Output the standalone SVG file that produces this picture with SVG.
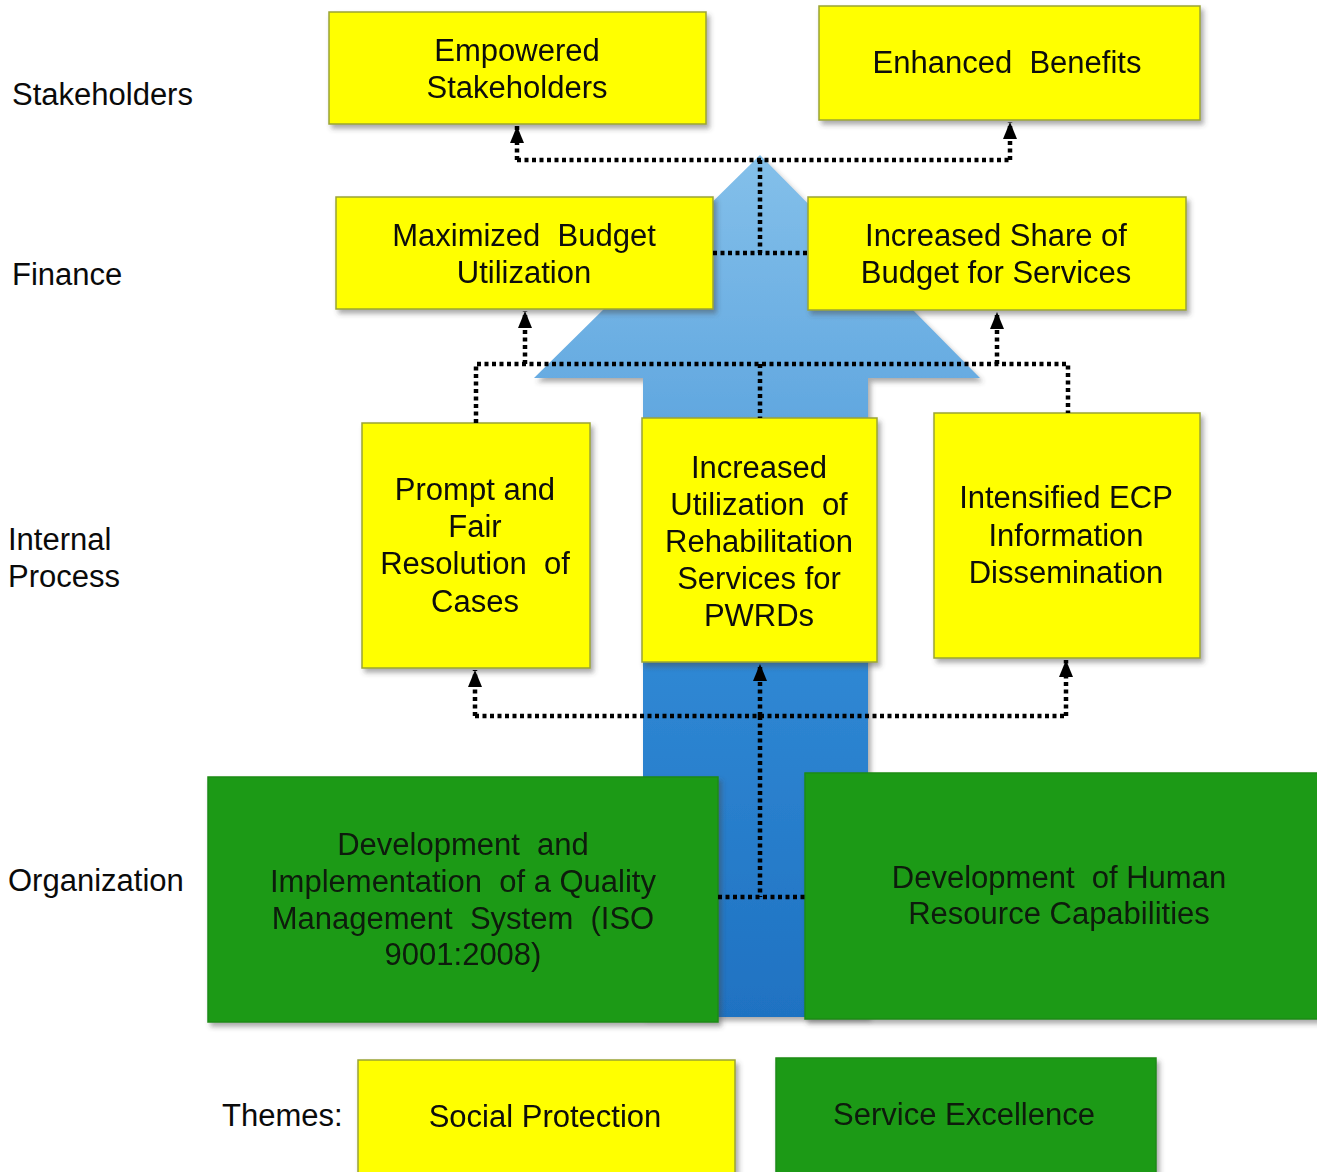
<svg xmlns="http://www.w3.org/2000/svg" width="1317" height="1172" viewBox="0 0 1317 1172">
<style>
text{font-family:"Liberation Sans",Arial,sans-serif;font-size:31px;fill:#0a0a0a;white-space:pre}
.c{text-anchor:middle}
.y{fill:#ffff00;stroke:#9aa436;stroke-width:1.5}
.g{fill:#1f9a16;stroke:#1b8a14;stroke-width:1.5}
.d{fill:none;stroke:#000;stroke-width:4.5;stroke-dasharray:4 3.5}
.gt{fill:#0c1a08}
</style>
<defs>
<linearGradient id="ag" gradientUnits="userSpaceOnUse" x1="0" y1="155" x2="0" y2="1017">
<stop offset="0" stop-color="#84c0ea"/>
<stop offset="0.3" stop-color="#62a8e0"/>
<stop offset="0.6" stop-color="#2f87d3"/>
<stop offset="1" stop-color="#1f72c2"/>
</linearGradient>
<filter id="sh" x="-5%" y="-5%" width="115%" height="120%">
<feDropShadow dx="3" dy="4" stdDeviation="2.5" flood-color="#444" flood-opacity="0.45"/>
</filter>
<marker id="ah" markerUnits="userSpaceOnUse" markerWidth="17" markerHeight="14" viewBox="0 0 17 14" refX="17" refY="7" orient="auto">
<path d="M0,0 L17,7 L0,14 z" fill="#000"/>
</marker>
</defs>
<rect width="1317" height="1172" fill="#fff"/>

<g id="labels">
<text x="12" y="105">Stakeholders</text>
<text x="12" y="285">Finance</text>
<text x="8" y="550">Internal</text>
<text x="8" y="587">Process</text>
<text x="8" y="891">Organization</text>
<text x="222" y="1126">Themes:</text>
</g>

<g id="big-arrow">
<polygon points="643,1017 643,378 534,378 760,155 980,378 868,378 868,1017" fill="url(#ag)" filter="url(#sh)"/>
</g>

<g id="empowered-stakeholders" filter="url(#sh)">
<rect class="y" x="329" y="12" width="377" height="112"/>
<text class="c" x="517" y="61">Empowered</text>
<text class="c" x="517" y="98">Stakeholders</text>
</g>
<g id="enhanced-benefits" filter="url(#sh)">
<rect class="y" x="819" y="6" width="381" height="114"/>
<text class="c" x="1007" y="73">Enhanced  Benefits</text>
</g>
<g id="maximized-budget" filter="url(#sh)">
<rect class="y" x="336" y="197" width="377" height="112"/>
<text class="c" x="524" y="246">Maximized  Budget</text>
<text class="c" x="524" y="283">Utilization</text>
</g>
<g id="increased-share" filter="url(#sh)">
<rect class="y" x="808" y="197" width="378" height="113"/>
<text class="c" x="996" y="246">Increased Share of</text>
<text class="c" x="996" y="283">Budget for Services</text>
</g>
<g id="prompt-fair" filter="url(#sh)">
<rect class="y" x="362" y="423" width="228" height="245"/>
<text class="c" x="475" y="500">Prompt and</text>
<text class="c" x="475" y="537">Fair</text>
<text class="c" x="475" y="574">Resolution  of</text>
<text class="c" x="475" y="612">Cases</text>
</g>
<g id="increased-utilization" filter="url(#sh)">
<rect class="y" x="642" y="418" width="235" height="244"/>
<text class="c" x="759" y="478">Increased</text>
<text class="c" x="759" y="515">Utilization  of</text>
<text class="c" x="759" y="552">Rehabilitation</text>
<text class="c" x="759" y="589">Services for</text>
<text class="c" x="759" y="626">PWRDs</text>
</g>
<g id="intensified-ecp" filter="url(#sh)">
<rect class="y" x="934" y="413" width="266" height="245"/>
<text class="c" x="1066" y="508">Intensified ECP</text>
<text class="c" x="1066" y="546">Information</text>
<text class="c" x="1066" y="583">Dissemination</text>
</g>
<g id="quality-management" filter="url(#sh)">
<rect class="g" x="208" y="777" width="510" height="245"/>
<text class="c gt" x="463" y="855">Development  and</text>
<text class="c gt" x="463" y="892">Implementation  of a Quality</text>
<text class="c gt" x="463" y="929">Management  System  (ISO</text>
<text class="c gt" x="463" y="965">9001:2008)</text>
</g>
<g id="human-resource" filter="url(#sh)">
<rect class="g" x="805" y="773" width="520" height="246"/>
<text class="c gt" x="1059" y="888">Development  of Human</text>
<text class="c gt" x="1059" y="924">Resource Capabilities</text>
</g>
<g id="theme-social" filter="url(#sh)">
<rect class="y" x="358" y="1060" width="377" height="120"/>
<text class="c" x="545" y="1127">Social Protection</text>
</g>
<g id="theme-service" filter="url(#sh)">
<rect class="g" x="776" y="1058" width="380" height="120"/>
<text class="c gt" x="964" y="1125">Service Excellence</text>
</g>

<g id="connectors">
<path class="d" d="M517,160 H1010"/>
<path class="d" d="M517,160 V126" marker-end="url(#ah)"/>
<path class="d" d="M1010,160 V122" marker-end="url(#ah)"/>
<path class="d" d="M760,160 V253"/>
<path class="d" d="M713,253 H808"/>
<path class="d" d="M476,423 V364 H1068 V413"/>
<path class="d" d="M525,364 V311" marker-end="url(#ah)"/>
<path class="d" d="M997,364 V312" marker-end="url(#ah)"/>
<path class="d" d="M760,364 V418"/>
<path class="d" d="M475,716 H1066"/>
<path class="d" d="M475,716 V670" marker-end="url(#ah)"/>
<path class="d" d="M1066,716 V660" marker-end="url(#ah)"/>
<path class="d" d="M760,716 V664" marker-end="url(#ah)"/>
<path class="d" d="M760,716 V897"/>
<path class="d" d="M718,897 H805"/>
</g>
</svg>
